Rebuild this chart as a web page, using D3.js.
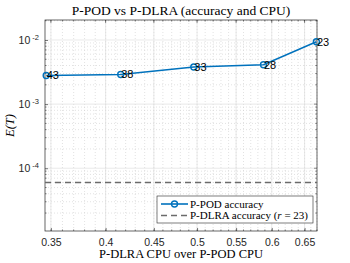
<!doctype html>
<html>
<head>
<meta charset="utf-8">
<title>P-POD vs P-DLRA</title>
<style>
  body { margin:0; background:#fff; }
  svg { display:block; }
  .tick text { font-family:"Liberation Sans", Arial, sans-serif; font-size:10.5px; fill:#262626; }
  .serif { font-family:"Liberation Serif", "DejaVu Serif", serif; fill:#000; }
  .lbl { font-family:"Liberation Sans", Arial, sans-serif; font-size:11px; fill:#000; }
</style>
<script src="https://cdn.jsdelivr.net/npm/d3@7"></script>
</head>
<body>
<svg id="chart" width="350" height="263"></svg>
<script>
// data
var cpuRatio = [0.346, 0.415, 0.496, 0.588, 0.669]
var podError = [0.0028, 0.0029, 0.0038, 0.0041, 0.0094]
var ranks = [43, 38, 33, 28, 23]
var dlraError = 6.0e-5
var xTicks = [0.35, 0.4, 0.45, 0.5, 0.55, 0.6, 0.65]
var yTicks = [1e-4, 1e-3, 1e-2]

var L = 45, R = 317, T = 20, B = 231
var svg = d3.select("#chart")

var x = d3.scaleLog().domain([0.345, 0.67]).range([L, R])
var y = d3.scaleLog().domain([1.05e-5, 0.0205]).range([B, T])

// minor values
var xMinor = d3.range(35, 68).map(function(v){ return v/100 })
var yMinor = []
;[1e-5, 1e-4, 1e-3, 1e-2].forEach(function(d){
  for (var k=2; k<10; k++) {
    var v = d*k
    if (v > y.domain()[0] && v < y.domain()[1]) yMinor.push(v)
  }
})

// grid
var grid = svg.append("g")
grid.selectAll(".xm").data(xMinor).enter().append("line")
  .attr("x1", d => x(d)).attr("x2", d => x(d)).attr("y1", T).attr("y2", B)
  .attr("stroke", "#cfcfcf").attr("stroke-width", 0.6).attr("stroke-dasharray", "1,2")
grid.selectAll(".ym").data(yMinor).enter().append("line")
  .attr("y1", d => y(d)).attr("y2", d => y(d)).attr("x1", L).attr("x2", R)
  .attr("stroke", "#cfcfcf").attr("stroke-width", 0.6).attr("stroke-dasharray", "1,2")
grid.selectAll(".xM").data(xTicks).enter().append("line")
  .attr("x1", d => x(d)).attr("x2", d => x(d)).attr("y1", T).attr("y2", B)
  .attr("stroke", "#e0e0e0").attr("stroke-width", 0.7)
grid.selectAll(".yM").data(yTicks).enter().append("line")
  .attr("y1", d => y(d)).attr("y2", d => y(d)).attr("x1", L).attr("x2", R)
  .attr("stroke", "#e0e0e0").attr("stroke-width", 0.7)

// axes
var xAxis = svg.append("g").attr("transform", "translate(0," + B + ")")
  .call(d3.axisBottom(x).tickValues(xTicks).tickFormat(d3.format("")).tickSizeInner(-3).tickSizeOuter(0).tickPadding(8))
var yAxis = svg.append("g").attr("transform", "translate(" + L + ",0)")
  .call(d3.axisLeft(y).tickValues(yTicks).tickFormat("").tickSizeInner(-3).tickSizeOuter(0))
xAxis.select(".domain").remove()
yAxis.select(".domain").remove()
svg.selectAll(".tick line").attr("stroke", "#262626").attr("stroke-width", 0.6)

yAxis.selectAll(".tick").append("text")
  .attr("x", -6).attr("dy", "0.35em").attr("text-anchor", "end")
  .each(function(d){
    var t = d3.select(this)
    t.append("tspan").text("10")
    t.append("tspan").attr("dy", "-0.55em").attr("font-size", "7.5px").text(" " + Math.round(Math.log10(d)))
  })

// minor ticks on all sides
var mt = svg.append("g").attr("stroke", "#262626").attr("stroke-width", 0.5)
mt.selectAll(".a").data(xMinor).enter().append("line")
  .attr("x1", d => x(d)).attr("x2", d => x(d)).attr("y1", B).attr("y2", B-1.6)
mt.selectAll(".b").data(xMinor).enter().append("line")
  .attr("x1", d => x(d)).attr("x2", d => x(d)).attr("y1", T).attr("y2", T+1.6)
mt.selectAll(".c").data(yMinor).enter().append("line")
  .attr("y1", d => y(d)).attr("y2", d => y(d)).attr("x1", L).attr("x2", L+1.6)
mt.selectAll(".d").data(yMinor).enter().append("line")
  .attr("y1", d => y(d)).attr("y2", d => y(d)).attr("x1", R).attr("x2", R-1.6)
mt.selectAll(".e").data(xTicks).enter().append("line")
  .attr("x1", d => x(d)).attr("x2", d => x(d)).attr("y1", T).attr("y2", T+3)
mt.selectAll(".f").data(yTicks).enter().append("line")
  .attr("y1", d => y(d)).attr("y2", d => y(d)).attr("x1", R).attr("x2", R-3)

// box
svg.append("rect").attr("x", L).attr("y", T).attr("width", R-L).attr("height", B-T)
  .attr("fill", "none").attr("stroke", "#262626").attr("stroke-width", 0.7)

// dashed reference
svg.append("line")
  .attr("x1", L).attr("x2", R).attr("y1", y(dlraError)).attr("y2", y(dlraError))
  .attr("stroke", "#6b6b6b").attr("stroke-width", 1.6).attr("stroke-dasharray", "6,4")

// P-POD line
var pts = cpuRatio.map(function(d,i){ return [d, podError[i], ranks[i]] })
var line = d3.line().x(d => x(d[0])).y(d => y(d[1]))
svg.append("path").datum(pts).attr("d", line)
  .attr("fill", "none").attr("stroke", "#0072BD").attr("stroke-width", 1.6)
svg.selectAll(".mk").data(pts).enter().append("circle")
  .attr("cx", d => x(d[0])).attr("cy", d => y(d[1])).attr("r", 3)
  .attr("fill", "none").attr("stroke", "#0072BD").attr("stroke-width", 1.4)
svg.selectAll(".rk").data(pts).enter().append("text").attr("class", "lbl")
  .attr("x", d => x(d[0]) + 0.5).attr("y", d => y(d[1])).attr("dy", "0.36em")
  .text(d => d[2])

// title and labels
svg.append("text").attr("class", "serif").attr("x", 181).attr("y", 14.5)
  .attr("text-anchor", "middle").attr("font-size", "13.5px")
  .text("P-POD vs P-DLRA (accuracy and CPU)")
svg.append("text").attr("class", "serif").attr("x", 181).attr("y", 258)
  .attr("text-anchor", "middle").attr("font-size", "12.5px")
  .text("P-DLRA CPU over P-POD CPU")
svg.append("text").attr("class", "serif").attr("transform", "translate(14," + ((T+B)/2) + ") rotate(-90)")
  .attr("text-anchor", "middle").attr("font-size", "12.5px").attr("font-style", "italic")
  .text("E(T)")

// legend
var lg = svg.append("g").attr("transform", "translate(157,196)")
lg.append("rect").attr("width", 156).attr("height", 27)
  .attr("fill", "#fff").attr("stroke", "#262626").attr("stroke-width", 0.6)
lg.append("line").attr("x1", 4).attr("x2", 31).attr("y1", 8).attr("y2", 8)
  .attr("stroke", "#0072BD").attr("stroke-width", 1.6)
lg.append("circle").attr("cx", 17.5).attr("cy", 8).attr("r", 3)
  .attr("fill", "none").attr("stroke", "#0072BD").attr("stroke-width", 1.4)
lg.append("text").attr("class", "serif").attr("x", 33).attr("y", 8).attr("dy", "0.35em")
  .attr("font-size", "11px").text("P-POD accuracy")
lg.append("line").attr("x1", 4).attr("x2", 31).attr("y1", 19.5).attr("y2", 19.5)
  .attr("stroke", "#6b6b6b").attr("stroke-width", 1.6).attr("stroke-dasharray", "6,4")
var t2 = lg.append("text").attr("class", "serif").attr("x", 33).attr("y", 19.5).attr("dy", "0.35em")
  .attr("font-size", "11px")
t2.append("tspan").text("P-DLRA accuracy (")
t2.append("tspan").attr("font-style", "italic").text("r")
t2.append("tspan").text(" = 23)")
</script>
</body>
</html>
